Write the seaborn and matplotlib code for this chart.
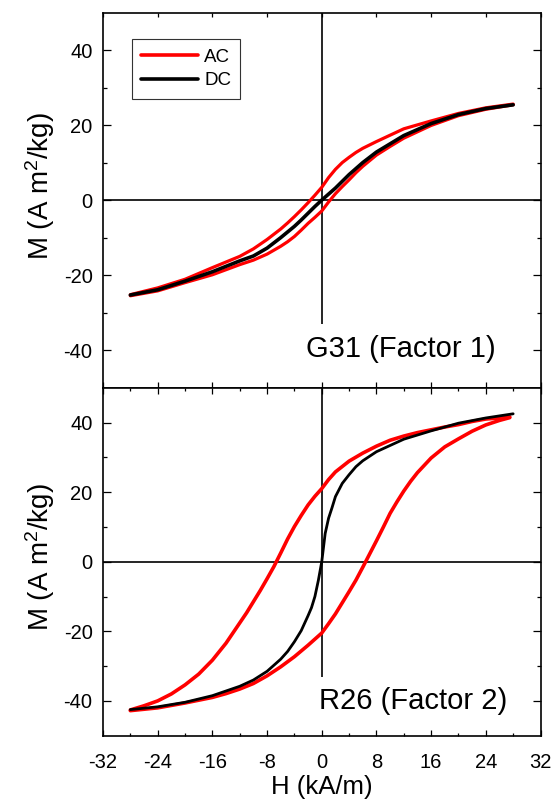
import numpy as np
import pandas as pd
import matplotlib
matplotlib.use("Agg")
import matplotlib.pyplot as plt
import seaborn as sns
from matplotlib.lines import Line2D
from matplotlib.ticker import MultipleLocator, FixedLocator

# ---------------- data ----------------
# Top panel: G31 (Factor 1)
g31_ac_up_H = [28, 24, 20, 16, 12, 10, 8, 6, 5, 4, 3, 2, 1, 0, -1, -2, -3, -4, -5, -6, -8, -10, -12, -16, -20, -24, -28]
g31_ac_up_M = [25.6, 24.6, 23.1, 21.1, 19.0, 17.3, 15.6, 13.8, 12.7, 11.4, 10.0, 8.2, 6.0, 3.4, 1.3, -0.7, -2.6, -4.4, -6.1, -7.7, -10.5, -13.0, -15.0, -18.0, -21.1, -23.4, -25.2]
g31_ac_dn_H = [-28, -24, -20, -16, -12, -10, -8, -6, -5, -4, -3, -2, -1, 0, 1, 2, 3, 4, 5, 6, 8, 10, 12, 16, 20, 24, 28]
g31_ac_dn_M = [-25.5, -24.2, -22.0, -19.9, -17.2, -16.0, -14.4, -12.3, -11.1, -9.7, -8.0, -6.2, -4.6, -2.9, -0.5, 1.7, 3.6, 5.4, 7.3, 9.0, 12.0, 14.3, 16.5, 19.9, 22.5, 24.2, 25.4]
g31_dc_H = [-28, -24, -20, -16, -12, -10, -8, -6, -4, -3, -2, -1, 0, 1, 2, 3, 4, 6, 8, 10, 12, 16, 20, 24, 28]
g31_dc_M = [-25.3, -23.9, -21.6, -19.1, -16.2, -14.9, -12.8, -10.0, -7.0, -5.3, -3.5, -1.7, 0.0, 1.6, 3.2, 5.0, 6.8, 10.0, 12.8, 15.0, 17.2, 20.4, 22.8, 24.4, 25.4]

# Bottom panel: R26 (Factor 2)
r26_ac_up_H = [27.5, 26, 24, 22, 20, 18, 16, 14, 12, 10, 8, 6, 4, 2, 1, 0, -1, -2, -3, -4, -5, -6, -7, -8, -9, -10, -11, -12, -14, -16, -18, -20, -22, -24, -26, -28]
r26_ac_up_M = [41.6, 41.3, 41.0, 40.3, 39.4, 38.7, 37.9, 37.1, 36.1, 34.9, 33.2, 31.2, 28.9, 25.8, 23.6, 21.0, 18.8, 16.3, 13.3, 10.1, 6.5, 2.5, -1.4, -4.9, -8.3, -11.5, -14.7, -17.6, -23.4, -28.3, -32.3, -35.4, -38.0, -40.0, -41.4, -42.6]
r26_ac_dn_H = [-28, -26, -24, -22, -20, -18, -16, -14, -12, -10, -8, -6, -4, -2, 0, 1, 2, 3, 4, 5, 6, 7, 8, 9, 10, 11, 12, 13, 14, 16, 18, 20, 22, 24, 26, 27.5]
r26_ac_dn_M = [-42.8, -42.4, -42.0, -41.3, -40.6, -39.8, -39.0, -37.9, -36.6, -35.0, -32.8, -30.2, -27.3, -24.0, -20.5, -17.8, -15.0, -11.8, -8.6, -5.3, -1.6, 2.2, 6.0, 9.9, 13.9, 17.2, 20.3, 23.1, 25.6, 29.8, 33.0, 35.3, 37.5, 39.3, 40.6, 41.4]
r26_dc_H = [-28, -24, -20, -16, -12, -10, -8, -6, -5, -4, -3, -2, -1.5, -1, -0.5, 0, 0.5, 1, 1.5, 2, 3, 4, 5, 6, 8, 10, 12, 16, 20, 24, 28]
r26_dc_M = [-42.5, -41.7, -40.4, -38.5, -35.8, -34.0, -31.5, -28.0, -25.8, -23.0, -19.8, -15.5, -13.2, -10.0, -5.4, 0.0, 8.1, 12.5, 15.5, 18.7, 22.5, 25.0, 27.3, 29.0, 31.6, 33.4, 35.2, 37.6, 39.8, 41.3, 42.5]

series_names = ["AC", "DC"]
x_ticks = [-32, -24, -16, -8, 0, 8, 16, 24, 32]
y_ticks = [-40, -20, 0, 20, 40]
panel_labels = ["G31 (Factor 1)", "R26 (Factor 2)"]
x_label = "H (kA/m)"
y_label = "M (A m$^2$/kg)"


def branch_frame(H, M, curve, branch):
    return pd.DataFrame({"H": H, "M": M, "curve": curve, "branch": branch})


df_top = pd.concat([
    branch_frame(g31_ac_up_H, g31_ac_up_M, "AC", "up"),
    branch_frame(g31_ac_dn_H, g31_ac_dn_M, "AC", "dn"),
    branch_frame(g31_dc_H, g31_dc_M, "DC", "dc"),
], ignore_index=True)
df_bot = pd.concat([
    branch_frame(r26_ac_up_H, r26_ac_up_M, "AC", "up"),
    branch_frame(r26_ac_dn_H, r26_ac_dn_M, "AC", "dn"),
    branch_frame(r26_dc_H, r26_dc_M, "DC", "dc"),
], ignore_index=True)

# ---------------- style ----------------
sns.set_style("white")
plt.rcParams["font.family"] = ["Liberation Sans", "DejaVu Sans"]
plt.rcParams["mathtext.default"] = "regular"
plt.rcParams["axes.unicode_minus"] = False
for k in ["text.color", "axes.labelcolor", "xtick.color", "ytick.color", "axes.edgecolor"]:
    plt.rcParams[k] = "black"

colors = {"AC": "#ff0000", "DC": "#000000"}

fig = plt.figure(figsize=(5.55, 8.01), dpi=100)
W, Hh = 555.0, 801.0
left, right = 103 / W, 540.5 / W
y_top = 1 - 12.5 / Hh
y_mid = 1 - 387.7 / Hh
y_bot = 1 - 735.7 / Hh
ax1 = fig.add_axes([left, y_mid, right - left, y_top - y_mid])
ax2 = fig.add_axes([left, y_bot, right - left, y_mid - y_bot])

for ax, df, lw_ac, lw_dc, label, lab_pos, ylab_y in [
    (ax1, df_top, 2.3, 2.6, panel_labels[0], (11.6, -39.7), 0.537),
    (ax2, df_bot, 2.6, 2.0, panel_labels[1], (13.3, -40.0), 0.513),
]:
    ax.axhline(0, color="black", lw=1.2, zorder=1)
    ax.vlines(0, -33, 50, color="black", lw=1.2, zorder=1)
    sub_ac = df[df["curve"] == "AC"]
    sub_dc = df[df["curve"] == "DC"]
    sns.lineplot(data=sub_ac, x="H", y="M", units="branch", estimator=None, sort=False,
                 color=colors["AC"], lw=lw_ac, ax=ax, legend=False, zorder=3)
    sns.lineplot(data=sub_dc, x="H", y="M", units="branch", estimator=None, sort=False,
                 color=colors["DC"], lw=lw_dc, ax=ax, legend=False, zorder=4)
    ax.set_xlim(-32, 32)
    ax.set_ylim(-50, 50)
    ax.xaxis.set_major_locator(FixedLocator(x_ticks))
    ax.xaxis.set_minor_locator(MultipleLocator(4))
    ax.yaxis.set_major_locator(FixedLocator(y_ticks))
    ax.yaxis.set_minor_locator(FixedLocator([-30, -10, 10, 30]))
    ax.tick_params(which="both", direction="in", top=True, right=True, left=True, bottom=True,
                   width=0.9, color="black")
    ax.tick_params(axis="y", which="major", length=6, pad=7.5, labelsize=14.5)
    ax.tick_params(axis="y", which="minor", length=3)
    ax.tick_params(axis="x", which="major", length=4.5, pad=12.5, labelsize=14.5)
    ax.tick_params(axis="x", which="minor", length=2.5)
    for s in ax.spines.values():
        s.set_linewidth(1.2)
        s.set_color("black")
    ax.set_ylabel(y_label, fontsize=20)
    ax.yaxis.set_label_coords(-0.105, ylab_y)
    ax.text(lab_pos[0], lab_pos[1], label, ha="center", va="center", fontsize=21)
    ax.set_xlabel("")

# top panel: no x labels, no minor x ticks, short top ticks
ax1.tick_params(axis="x", which="minor", length=0)
ax1.tick_params(axis="x", labelbottom=False)
for t in ax1.xaxis.get_major_ticks():
    t.tick2line.set_markersize(3)

ax2.set_xlabel(x_label, fontsize=18.5, labelpad=2)

handles = [Line2D([], [], color=colors[n], lw=2.6, label=n) for n in series_names]
leg = ax1.legend(handles=handles, loc="upper left", bbox_to_anchor=(0.066, 0.929),
                 borderaxespad=0, fontsize=13.5, handlelength=3.0, handletextpad=0.35,
                 borderpad=0.5, labelspacing=0.35, fancybox=False, framealpha=1)
leg.get_frame().set_edgecolor("#333333")
leg.get_frame().set_linewidth(0.8)

fig.savefig("out.png", dpi=100)
